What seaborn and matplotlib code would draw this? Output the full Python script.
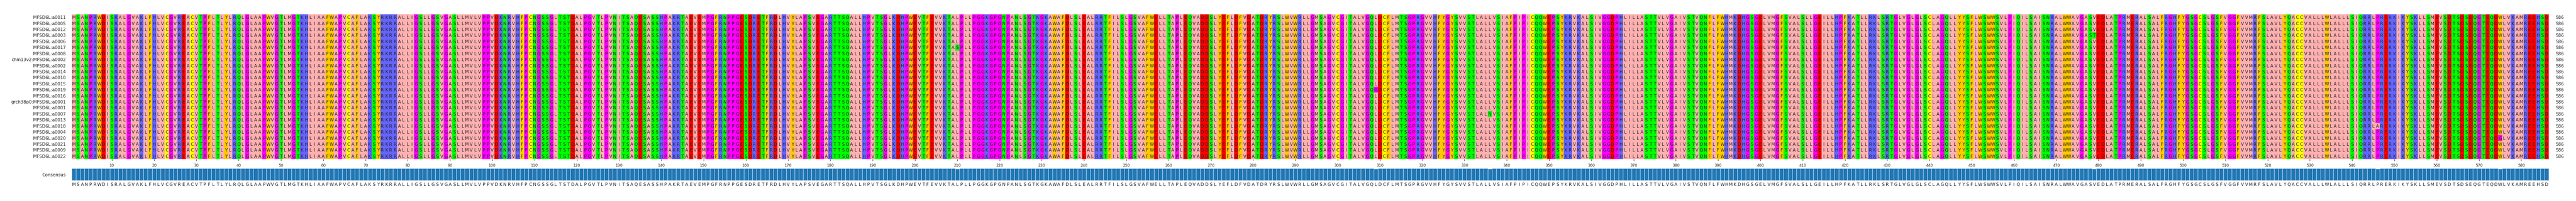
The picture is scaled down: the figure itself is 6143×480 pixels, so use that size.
import numpy as np
import pandas as pd
import matplotlib
matplotlib.use("Agg")
import matplotlib.pyplot as plt
from matplotlib.colors import ListedColormap
import seaborn as sns

names = ["MFSD6L:a0011", "MFSD6L:a0005", "MFSD6L:a0012", "MFSD6L:a0003", "MFSD6L:a0006",
         "MFSD6L:a0017", "MFSD6L:a0008", "chm13v2:MFSD6L:a0002", "MFSD6L:a0002", "MFSD6L:a0014",
         "MFSD6L:a0010", "MFSD6L:a0015", "MFSD6L:a0019", "MFSD6L:a0016", "grch38p0:MFSD6L:a0001",
         "MFSD6L:a0001", "MFSD6L:a0007", "MFSD6L:a0013", "MFSD6L:a0018", "MFSD6L:a0004",
         "MFSD6L:a0020", "MFSD6L:a0021", "MFSD6L:a0009", "MFSD6L:a0022"]

consensus = ("MSANPRWDISRALGVAKLFHLVCGVREACVTPFLTLYLRQLGLAAPWVGTLMGTKHLIAAFWAPV"
             "CAFLAKSYRKRRALLIGSLLGSVGASLLMVLVPPVDKNRVHFPCNGSSGLTSTDALPGVTLPVN"
             "ITSAQESASSHPAKRTAEVEMPGFRNPPGESDRETFRDLHVYLAPSVEGARTTSQALLHPVTSGL"
             "KDHPWEVTFEVVKTALPLLPGGKGPGNPANLSGTKGKAWAFDLSLEALRRTFILSLGSVAFWELL"
             "TAPLEQVADDSLYEFLDFVDATDRYRSLWVWRLLGMSAGVCGITALVGQLDCFLMTSGPRGVVHF"
             "YGYSVVSTLALLVSIAFPIPICQQWEPSYKRVKALSIVGGDPHLILLASTTVLVGAIVSTVQNF"
             "LFWHMKDHGSGELVMGFSVALSLLGEILLHPFKATLLRKLSRTGLVGLGLSCLAGQLLYYSFLWS"
             "WWSVLPIQILSAISNRALWWAVGASVEDLATPRMERALSALFRGHFYGSGCSLGSFVGGFVVMRF"
             "SLAVLYQACCVALLLWLALLLSIQRRLPRERKIKYSKLLSMEVSDTSDSEQGTEQDWLVKAMREEHSD")

# variant residues: (row index, column number 1-based, residue)
var_rows = [5, 12, 16, 3, 18, 20]
var_cols = [210, 309, 336, 479, 546, 575]
var_res = ["S", "G", "N", "T", "A", "G"]

lengths = [586] * len(names)

groups = {"ILVAM": "#ffafaf", "FWY": "#ffc800", "KRH": "#6464ff", "DE": "#ff0000",
          "STNQ": "#00ff00", "PG": "#ff00ff", "C": "#ffff00"}
order = list(groups.keys())

L = len(consensus)
seqs = np.array([list(consensus) for _ in names])
for r, c, a in zip(var_rows, var_cols, var_res):
    seqs[r, c - 1] = a

def code(a):
    for i, g in enumerate(order):
        if a in g:
            return i
    return 0

codes = np.vectorize(code)(seqs)
cons_frac = [(seqs[:, j] == consensus[j]).mean() for j in range(L)]

W, H = 6143, 481
fig = plt.figure(figsize=(W / 100, H / 100), dpi=100)
ax = fig.add_axes([171 / W, (H - 381) / H, 5907 / W, 346 / H])
df = pd.DataFrame(codes, index=names, columns=range(1, L + 1))
sns.heatmap(df, ax=ax, cmap=ListedColormap([groups[g] for g in order]), vmin=-0.5,
            vmax=len(order) - 0.5, cbar=False, annot=seqs, fmt="",
            annot_kws={"fontsize": 7.5, "color": "#222222"})
ax.set_yticks(np.arange(len(names)) + 0.5)
ax.set_yticklabels(names, fontsize=7.5, color="#222222")
ax.tick_params(axis="y", length=0, pad=10)
ticks = list(range(10, L + 1, 10))
ax.set_xticks([t - 0.5 for t in ticks])
ax.set_xticklabels([str(t) for t in ticks], fontsize=6.5, rotation=0, color="#222222")
ax.tick_params(axis="x", length=3, width=0.6, pad=4)
ax.set_xlabel("")
for i, n in enumerate(lengths):
    ax.text(L + 1.6, i + 0.5, str(n), va="center", ha="left", fontsize=7.5, color="#222222")

ax2 = fig.add_axes([171 / W, (H - 432) / H, 5907 / W, 29 / H])
cdf = pd.DataFrame({"pos": np.arange(L), "frac": cons_frac})
sns.barplot(data=cdf, x="pos", y="frac", ax=ax2, color="#1f77b4", width=1.0,
            edgecolor="#c6dbef", linewidth=0.8, saturation=1)
ax2.set_ylim(0, 1)
ax2.set_xlim(-0.5, L - 0.5)
ax2.set_xticks(np.arange(L))
ax2.set_xticklabels(list(consensus), fontsize=7.5, color="#222222")
ax2.tick_params(axis="x", length=0, pad=3)
ax2.set_yticks([0.5])
ax2.set_yticklabels(["Consensus"], fontsize=7.5, color="#222222")
ax2.tick_params(axis="y", length=0, pad=10)
ax2.set_xlabel("")
ax2.set_ylabel("")
for s in ax2.spines.values():
    s.set_visible(False)

fig.savefig("out.png", dpi=100)
